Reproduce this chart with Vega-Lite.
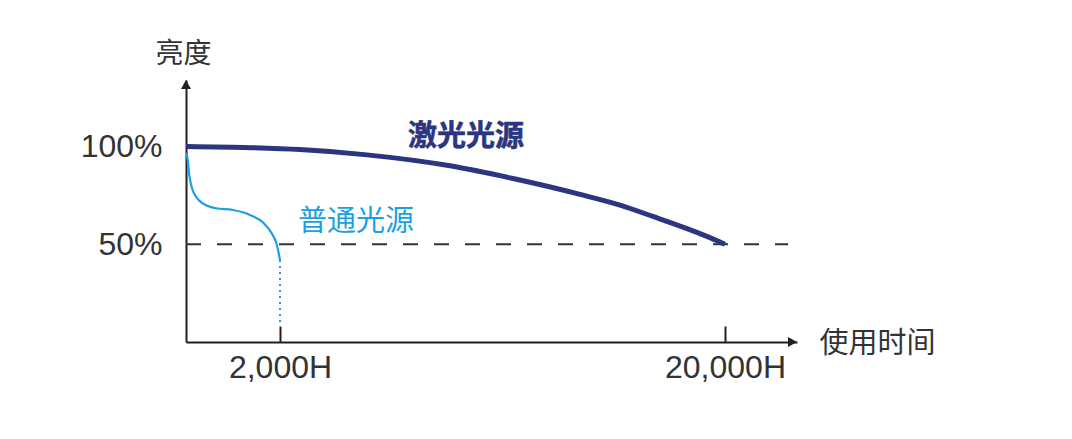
{
  "$schema": "https://vega.github.io/schema/vega-lite/v6.json",
  "background": "white",
  "autosize": "none",
  "padding": {"left": 186, "top": 80, "right": 275, "bottom": 97},
  "width": 611,
  "height": 262,
  "datasets": {
    "laser": [
      {"hours": 0, "brightness": 100},
      {"hours": 1362, "brightness": 99.4},
      {"hours": 2809, "brightness": 98.4},
      {"hours": 5519, "brightness": 95.7},
      {"hours": 8877, "brightness": 90.1},
      {"hours": 11425, "brightness": 83.6},
      {"hours": 14135, "brightness": 75.5},
      {"hours": 15753, "brightness": 70.0},
      {"hours": 17088, "brightness": 64.2},
      {"hours": 18463, "brightness": 58.0},
      {"hours": 19191, "brightness": 54.4},
      {"hours": 20000, "brightness": 50}
    ],
    "normal": [
      {"hours": 10, "brightness": 96.7},
      {"hours": 36, "brightness": 93.1},
      {"hours": 70, "brightness": 85.4},
      {"hours": 128, "brightness": 78.6},
      {"hours": 213, "brightness": 74.3},
      {"hours": 355, "brightness": 70.9},
      {"hours": 638, "brightness": 68.4},
      {"hours": 1000, "brightness": 67.5},
      {"hours": 1362, "brightness": 65.0},
      {"hours": 1645, "brightness": 61.0},
      {"hours": 1823, "brightness": 55.6},
      {"hours": 1930, "brightness": 50.0},
      {"hours": 2000, "brightness": 41.9}
    ],
    "normal_end": [
      {"hours": 2000, "brightness": 41.9},
      {"hours": 2000, "brightness": 8.7}
    ],
    "half": [
      {"start": 0, "end": 22630, "brightness": 50}
    ],
    "arrows": [
      {"hours": 0, "brightness": 134, "dir": "up"},
      {"hours": 23000, "brightness": 0, "dir": "right"}
    ]
  },
  "layer": [
    {
      "data": {"name": "half"},
      "mark": {"type": "rule", "color": "#333333", "strokeWidth": 2, "strokeDash": [15, 16]},
      "encoding": {
        "x": {"field": "start", "type": "quantitative"},
        "x2": {"field": "end"},
        "y": {"field": "brightness", "type": "quantitative"}
      }
    },
    {
      "data": {"name": "normal_end"},
      "mark": {"type": "line", "color": "#1c9fe3", "strokeWidth": 2, "strokeDash": [2, 4]},
      "encoding": {
        "x": {"field": "hours", "type": "quantitative"},
        "y": {"field": "brightness", "type": "quantitative"}
      }
    },
    {
      "data": {"name": "normal"},
      "mark": {"type": "line", "color": "#1c9fe3", "strokeWidth": 2.2, "interpolate": "monotone"},
      "encoding": {
        "x": {"field": "hours", "type": "quantitative"},
        "y": {"field": "brightness", "type": "quantitative"}
      }
    },
    {
      "data": {"name": "laser"},
      "mark": {"type": "line", "color": "#2b3580", "strokeWidth": 5, "interpolate": "monotone"},
      "encoding": {
        "x": {
          "field": "hours",
          "type": "quantitative",
          "scale": {"domain": [0, 2000, 20000, 23000], "range": [0, 94, 539, 611], "nice": false, "zero": false},
          "axis": {
            "values": [2000, 20000],
            "labelExpr": "format(datum.value, ',') + 'H'",
            "grid": false,
            "domainColor": "#231f20",
            "domainWidth": 2,
            "tickColor": "#231f20",
            "tickWidth": 2,
            "tickSize": -16,
            "labelFont": "Liberation Sans",
            "labelFontSize": 32,
            "labelColor": "#333333",
            "labelPadding": 26,
            "labelBaseline": "top",
            "title": "使用时间",
            "titleFont": "Noto Sans CJK SC",
            "titleFontSize": 29,
            "titleFontWeight": "normal",
            "titleColor": "#333333",
            "titleX": 691,
            "titleY": 1,
            "titleAlign": "center",
            "titleBaseline": "middle"
          }
        },
        "y": {
          "field": "brightness",
          "type": "quantitative",
          "scale": {"domain": [0, 134], "nice": false},
          "axis": {
            "values": [50, 100],
            "labelExpr": "datum.value + '%'",
            "grid": false,
            "ticks": false,
            "domainColor": "#231f20",
            "domainWidth": 2,
            "labelFont": "Liberation Sans",
            "labelFontSize": 32,
            "labelColor": "#333333",
            "labelPadding": 24,
            "title": "亮度",
            "titleFont": "Noto Sans CJK SC",
            "titleFontSize": 28,
            "titleFontWeight": "normal",
            "titleColor": "#333333",
            "titleAngle": 0,
            "titleX": -3,
            "titleY": -26,
            "titleAlign": "center",
            "titleBaseline": "middle"
          }
        }
      }
    },
    {
      "data": {"name": "arrows"},
      "mark": {"type": "point", "filled": true, "color": "#231f20", "opacity": 1, "size": 400},
      "encoding": {
        "x": {"field": "hours", "type": "quantitative"},
        "y": {"field": "brightness", "type": "quantitative"},
        "shape": {
          "field": "dir",
          "type": "nominal",
          "scale": {"domain": ["up", "right"], "range": ["M0,0L-0.5,0.9L0.5,0.9Z", "M0,0L-0.9,-0.5L-0.9,0.5Z"]},
          "legend": null
        }
      }
    },
    {
      "data": {"values": [{"hours": 9524, "brightness": 104.9, "label": "激光光源"}]},
      "mark": {"type": "text", "font": "Noto Sans CJK SC", "fontSize": 29, "fontWeight": "bold", "align": "center", "baseline": "middle", "color": "#2b3580", "stroke": "#2b3580", "strokeWidth": 0.6},
      "encoding": {
        "x": {"field": "hours", "type": "quantitative"},
        "y": {"field": "brightness", "type": "quantitative"},
        "text": {"field": "label"}
      }
    },
    {
      "data": {"values": [{"hours": 5074, "brightness": 61.4, "label": "普通光源"}]},
      "mark": {"type": "text", "font": "Noto Sans CJK SC", "fontSize": 29, "align": "center", "baseline": "middle", "color": "#1c9fe3"},
      "encoding": {
        "x": {"field": "hours", "type": "quantitative"},
        "y": {"field": "brightness", "type": "quantitative"},
        "text": {"field": "label"}
      }
    }
  ],
  "config": {
    "view": {"stroke": null}
  }
}
